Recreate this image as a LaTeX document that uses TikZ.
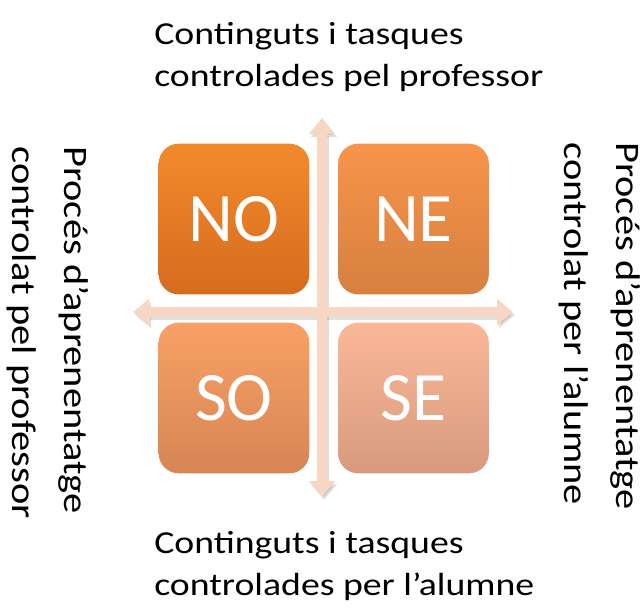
\documentclass[tikz,border=0pt]{standalone}
\usepackage{fontspec}
\setmainfont{Carlito}
\newfontfamily\lblfont[FakeStretch=1.18]{Carlito}
\usetikzlibrary{arrows.meta}

\definecolor{axisc}{HTML}{F8D6C4}
\tikzset{
	quad/.style={rounded corners=15pt, minimum width=113pt, minimum height=113pt,
		text=white, font=\fontsize{52}{52}\selectfont, inner sep=0pt},
	lbl/.style={align=left, inner sep=0pt, font=\lblfont\fontsize{24}{31.5}\selectfont},
	vlbl/.style={lbl, anchor=north west, rotate=-90, font=\lblfont\fontsize{25.7}{39}\selectfont},
	axis/.style={line width=7pt, color=axisc, {Triangle[width=19pt,length=12pt]}-{Triangle[width=19pt,length=12pt]}},
	axshadow/.style={line width=7pt, color=black, opacity=0.12, {Triangle[width=19pt,length=12pt]}-{Triangle[width=19pt,length=12pt]}}
}

\begin{document}
\begin{tikzpicture}[x=0.75pt,y=-0.75pt]
		\useasboundingbox (0,0) rectangle (642,607);
		
		% quadrants
		\node[quad, top color={rgb,255:red,242;green,138;blue,44}, bottom color={rgb,255:red,214;green,108;blue,30}] (no) at (234,219) {NO};
		\node[quad, top color={rgb,255:red,248;green,148;blue,74}, bottom color={rgb,255:red,214;green,128;blue,64}] (ne) at (413.5,219) {NE};
		\node[quad, top color={rgb,255:red,249;green,160;blue,102}, bottom color={rgb,255:red,214;green,134;blue,84}] (so) at (234,398) {SO};
		\node[quad, top color={rgb,255:red,251;green,184;blue,152}, bottom color={rgb,255:red,216;green,154;blue,126}] (se) at (413.5,398) {SE};
		
		% axes
		\coordinate (up) at (322,118);
		\coordinate (down) at (322,497);
		\coordinate (left) at (133,312);
		\coordinate (right) at (513,312);
		\draw[axshadow] ([shift={(2,3)}]up) -- ([shift={(2,3)}]down);
		\draw[axshadow] ([shift={(2,3)}]left) -- ([shift={(2,3)}]right);
		\draw[axis] (up) -- (down);
		\draw[axis] (left) -- (right);
		
		% labels
		\node[lbl, anchor=north west] (tlab) at (154,22) {Continguts i tasques\\controlades pel professor};
		\node[lbl, anchor=north west] (blab) at (154,531) {Continguts i tasques\\controlades per l’alumne};
		\node[vlbl] (llab) at (89,146) {Procés d’aprenentatge\\controlat pel professor};
		\node[vlbl] (rlab) at (641,142) {Procés d’aprenentatge\\controlat per l’alumne};
\end{tikzpicture}
\end{document}
